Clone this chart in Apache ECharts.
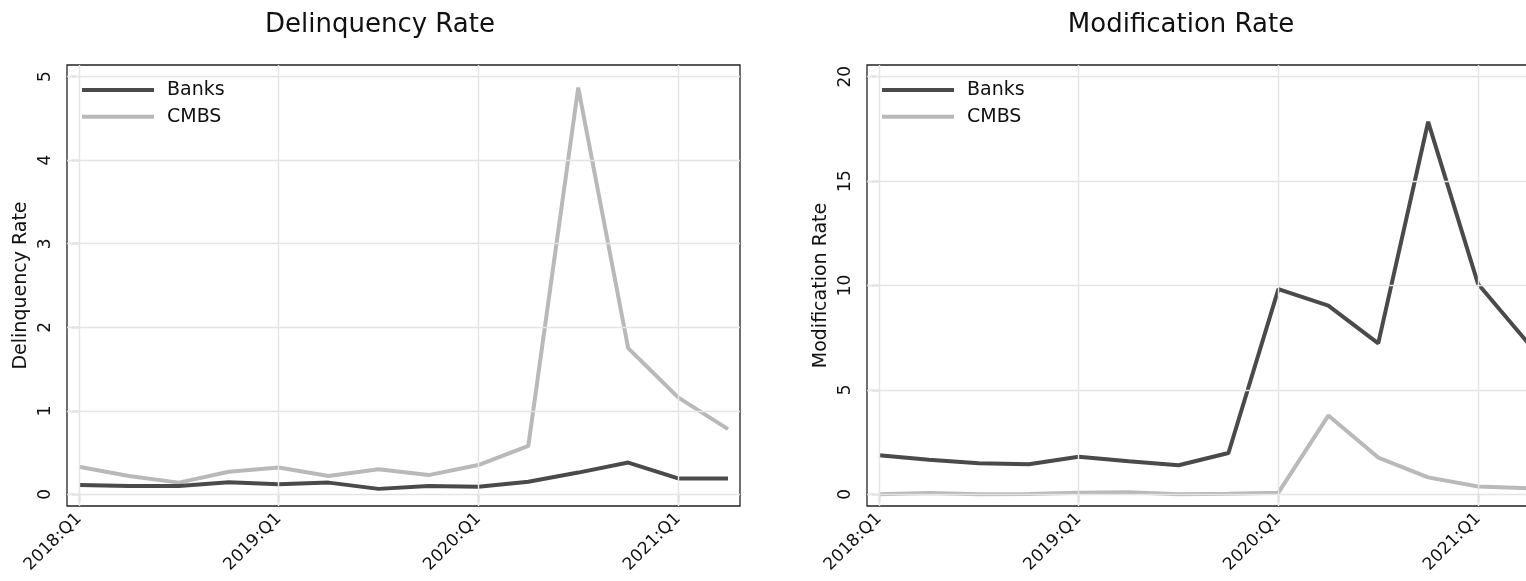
<!DOCTYPE html>
<html><head><meta charset="utf-8">
<script src="https://cdn.jsdelivr.net/npm/echarts@6/dist/echarts.min.js"></script>
<style>html,body{margin:0;padding:0;background:#fff;overflow:hidden}#c{width:1545px;height:581px}</style>
</head><body><div id="c"></div>
<script>
const quarters = ['2018:Q1','2018:Q2','2018:Q3','2018:Q4','2019:Q1','2019:Q2','2019:Q3','2019:Q4','2020:Q1','2020:Q2','2020:Q3','2020:Q4','2021:Q1','2021:Q2'];
const xTickIdx = [0, 4, 8, 12];
const delinqTicks = [0, 1, 2, 3, 4, 5];
const modTicks = [0, 5, 10, 15, 20];
const delinqBanks = [0.11, 0.10, 0.10, 0.145, 0.12, 0.14, 0.065, 0.10, 0.09, 0.15, 0.26, 0.38, 0.19, 0.19];
const delinqCMBS  = [0.33, 0.22, 0.14, 0.27, 0.32, 0.22, 0.30, 0.23, 0.35, 0.58, 4.87, 1.75, 1.16, 0.78];
const modBanks = [1.87, 1.65, 1.49, 1.44, 1.80, 1.58, 1.39, 1.98, 9.83, 9.04, 7.23, 17.84, 10.07, 7.25];
const modCMBS  = [0.00, 0.06, 0.00, 0.02, 0.08, 0.10, 0.00, 0.03, 0.08, 3.77, 1.76, 0.81, 0.37, 0.29];
const seriesNames = ['Banks', 'CMBS'];

const BANKS_COLOR = '#4a4a4a';
const CMBS_COLOR = '#b9b9b9';
const GRID_COLOR = '#e4e4e4';
const TEXT = '#111';

const panels = [
  {left: 67, title: 'Delinquency Rate', titleX: 375, yName: 'Delinquency Rate', yMin: -0.14, yMax: 5.14, ticks: delinqTicks, banks: delinqBanks, cmbs: delinqCMBS},
  {left: 867, title: 'Modification Rate', titleX: 1176, yName: 'Modification Rate', yMin: -0.56, yMax: 20.56, ticks: modTicks, banks: modBanks, cmbs: modCMBS}
];

const toPairs = arr => arr.map((v, i) => [i, v]);

const option = {
  animation: false,
  textStyle: {fontFamily: 'DejaVu Sans'},
  title: [], legend: [], grid: [], xAxis: [], yAxis: [], series: []
};

panels.forEach((p, k) => {
  option.title.push({
    text: p.title, left: p.titleX, top: 7, textAlign: 'center',
    textStyle: {fontSize: 26, fontWeight: 'normal', color: TEXT, fontFamily: 'DejaVu Sans'}
  });
  option.legend.push({
    left: p.left + 9, top: 74, orient: 'vertical', data: seriesNames,
    backgroundColor: '#fff', padding: [5, 5, 8, 6],
    itemWidth: 72, itemHeight: 4, itemGap: 4.7, icon: 'rect', selectedMode: false,
    textStyle: {fontSize: 19, color: TEXT, lineHeight: 22, padding: [0, 0, 0, 8]}
  });
  option.grid.push({
    left: p.left, top: 65, width: 673, height: 441, show: true,
    borderColor: '#222', borderWidth: 1.3, backgroundColor: 'rgba(0,0,0,0)'
  });
  option.xAxis.push({
    gridIndex: k, type: 'value', min: -0.24, max: 13.24,
    axisLine: {show: false},
    axisTick: {show: true, customValues: xTickIdx, length: 8, lineStyle: {color: '#333', width: 1.2}},
    axisLabel: {customValues: xTickIdx, rotate: 45, formatter: v => quarters[v], fontSize: 17, color: TEXT, margin: 10},
    splitLine: {show: false}
  });
  option.yAxis.push({
    gridIndex: k, type: 'value', min: p.yMin, max: p.yMax,
    name: p.yName, nameLocation: 'middle', nameGap: 36,
    nameTextStyle: {fontSize: 19, color: TEXT},
    axisLine: {show: false},
    axisTick: {show: true, customValues: p.ticks, length: 7, lineStyle: {color: '#333', width: 1.2}},
    axisLabel: {customValues: p.ticks, rotate: 90, fontSize: 17, color: TEXT, margin: 13},
    splitLine: {show: false}
  });
  option.series.push({
    type: 'line', name: 'gridlines', xAxisIndex: k, yAxisIndex: k, data: [], z: 1, silent: true,
    markLine: {
      silent: true, symbol: 'none', label: {show: false}, animation: false,
      lineStyle: {color: GRID_COLOR, width: 1.4, type: 'solid'},
      emphasis: {disabled: true},
      data: p.ticks.map(v => ({yAxis: v})).concat(xTickIdx.map(v => ({xAxis: v})))
    }
  });
  option.series.push({
    type: 'line', name: 'Banks', xAxisIndex: k, yAxisIndex: k, data: toPairs(p.banks),
    symbol: 'none', z: 3, lineStyle: {color: BANKS_COLOR, width: 4}, itemStyle: {color: BANKS_COLOR}
  });
  option.series.push({
    type: 'line', name: 'CMBS', xAxisIndex: k, yAxisIndex: k, data: toPairs(p.cmbs),
    symbol: 'none', z: 2, lineStyle: {color: CMBS_COLOR, width: 4}, itemStyle: {color: CMBS_COLOR}
  });
});

const chart = echarts.init(document.getElementById('c'), null, {renderer: 'canvas'});
chart.setOption(option);
</script>
</body></html>
